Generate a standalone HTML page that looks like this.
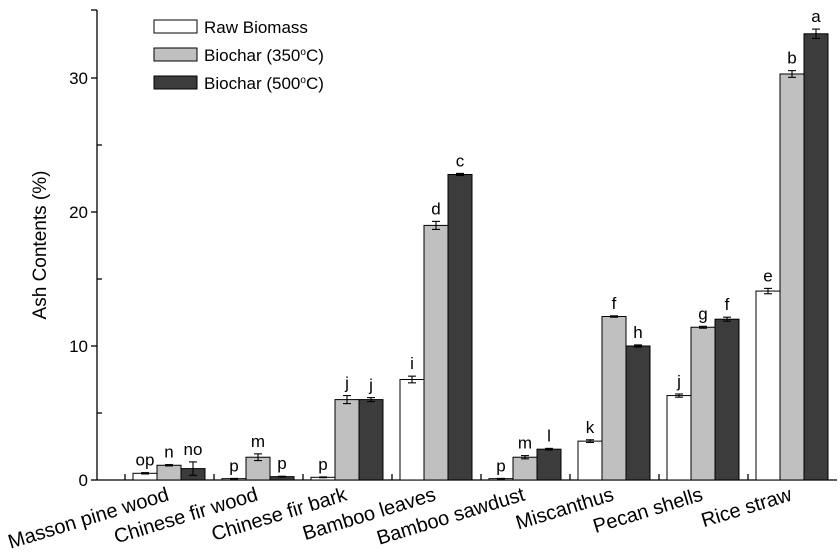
<!DOCTYPE html><html><head><style>body{margin:0;background:#fff}svg{display:block;font-family:"Liberation Sans",sans-serif}</style></head><body>
<svg width="840" height="559" viewBox="0 0 840 559" id="s">
<g stroke="#000" stroke-width="1.3" fill="none">
<line x1="97" y1="10" x2="97" y2="480"/><line x1="97" y1="480" x2="837" y2="480"/>
<line x1="91" y1="480" x2="97" y2="480"/><line x1="91" y1="346" x2="97" y2="346"/><line x1="91" y1="212" x2="97" y2="212"/><line x1="91" y1="78" x2="97" y2="78"/><line x1="91" y1="10" x2="97" y2="10"/>
<line x1="97" y1="413" x2="102" y2="413"/><line x1="97" y1="279" x2="102" y2="279"/><line x1="97" y1="145" x2="102" y2="145"/>
</g>
<g font-size="17" text-anchor="end"><text x="88" y="486">0</text><text x="88" y="352">10</text><text x="88" y="218">20</text><text x="88" y="84">30</text></g>
<text transform="translate(46,245) rotate(-90)" text-anchor="middle" font-size="19">Ash Contents (%)</text>
<g stroke="#000" stroke-width="1"><rect x="154" y="20" width="43" height="13" fill="#fff"/><rect x="154" y="48" width="43" height="13" fill="#c0c0c0"/><rect x="154" y="76" width="43" height="13" fill="#3c3c3c"/></g>
<g font-size="17"><text x="204" y="33">Raw Biomass</text><text x="204" y="61">Biochar (350<tspan dy="-6" font-size="10">o</tspan><tspan dy="6">C)</tspan></text><text x="204" y="89">Biochar (500<tspan dy="-6" font-size="10">o</tspan><tspan dy="6">C)</tspan></text></g>
<g id="g"></g>
</svg>
<script>
var d=[["Masson pine wood",[0.5,1.1,0.85],[0.05,0.05,0.5],["op","n","no"]],["Chinese fir wood",[0.1,1.7,0.25],[0.02,0.25,0.03],["p","m","p"]],["Chinese fir bark",[0.2,6.0,6.0],[0.03,0.3,0.15],["p","j","j"]],["Bamboo leaves",[7.5,19.0,22.8],[0.25,0.3,0.08],["i","d","c"]],["Bamboo sawdust",[0.1,1.7,2.3],[0.02,0.12,0.06],["p","m","l"]],["Miscanthus",[2.9,12.2,10.0],[0.1,0.05,0.08],["k","f","h"]],["Pecan shells",[6.3,11.4,12.0],[0.12,0.07,0.15],["j","g","f"]],["Rice straw",[14.1,30.3,33.3],[0.2,0.25,0.35],["e","b","a"]]];
var c=["#fff","#c0c0c0","#3c3c3c"],h="",k=13.4;
for(var i=0;i<8;i++){var cx=169+89*i;h+='<line x1="'+(125+89*i)+'" y1="480" x2="'+(125+89*i)+'" y2="474" stroke="#000" stroke-width="1.3"/>';
for(var j=0;j<3;j++){var v=d[i][1][j],e=d[i][2][j],x=cx-36+24*j,y=480-v*k;
h+='<rect x="'+x+'" y="'+y+'" width="24" height="'+(v*k)+'" fill="'+c[j]+'" stroke="#000" stroke-width="1"/>';
var t=480-(v+e)*k,b=480-(v-e)*k,m=x+12;
h+='<g stroke="#000" stroke-width="1.1"><line x1="'+m+'" y1="'+t+'" x2="'+m+'" y2="'+b+'"/><line x1="'+(m-4)+'" y1="'+t+'" x2="'+(m+4)+'" y2="'+t+'"/><line x1="'+(m-4)+'" y1="'+b+'" x2="'+(m+4)+'" y2="'+b+'"/></g>';
h+='<text x="'+m+'" y="'+(t-7)+'" text-anchor="middle" font-size="17">'+d[i][3][j]+'</text>';}
h+='<text transform="translate('+(cx+1)+',500) rotate(-17)" text-anchor="end" font-size="20">'+d[i][0]+'</text>';}
document.getElementById("g").innerHTML=h;
</script></body></html>
